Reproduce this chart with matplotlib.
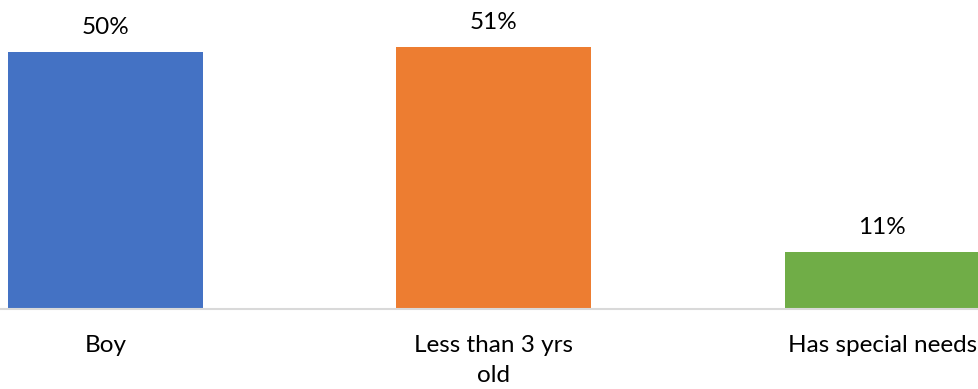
import matplotlib.pyplot as plt

categories = ["Boy", "Less than 3 yrs\nold", "Has special needs"]
values = [50, 51, 11]
labels = ["50%", "51%", "11%"]
colors = ["#4472C4", "#ED7D31", "#70AD47"]

plt.rcParams['font.family'] = ['Lato', 'DejaVu Sans']

fig = plt.figure(figsize=(9.79, 3.89), dpi=100)
# axes: full width, bottom edge at the baseline (y=309 px from top)
ax = fig.add_axes([0, 1 - 309 / 389, 1, 309 / 389])

x = range(len(categories))
bars = ax.bar(x, values, width=0.502, color=colors)

ax.set_xlim(-0.2717, 2.2495)
ax.set_ylim(0, 60.1)

for b, lab in zip(bars, labels):
    ax.annotate(lab, (b.get_x() + b.get_width() / 2, b.get_height()),
                xytext=(0, 13), textcoords="offset points",
                ha="center", va="baseline", fontsize=17.5, color="#000000")

ax.set_xticks(list(x))
ax.set_xticklabels(categories, fontsize=17.5, linespacing=1.5)
ax.tick_params(axis="x", length=0, pad=19)
ax.set_yticks([])

for s in ["top", "left", "right"]:
    ax.spines[s].set_visible(False)
ax.spines["bottom"].set_color("#D9D9D9")
ax.spines["bottom"].set_linewidth(1.5)

fig.savefig("out.png", dpi=100)
